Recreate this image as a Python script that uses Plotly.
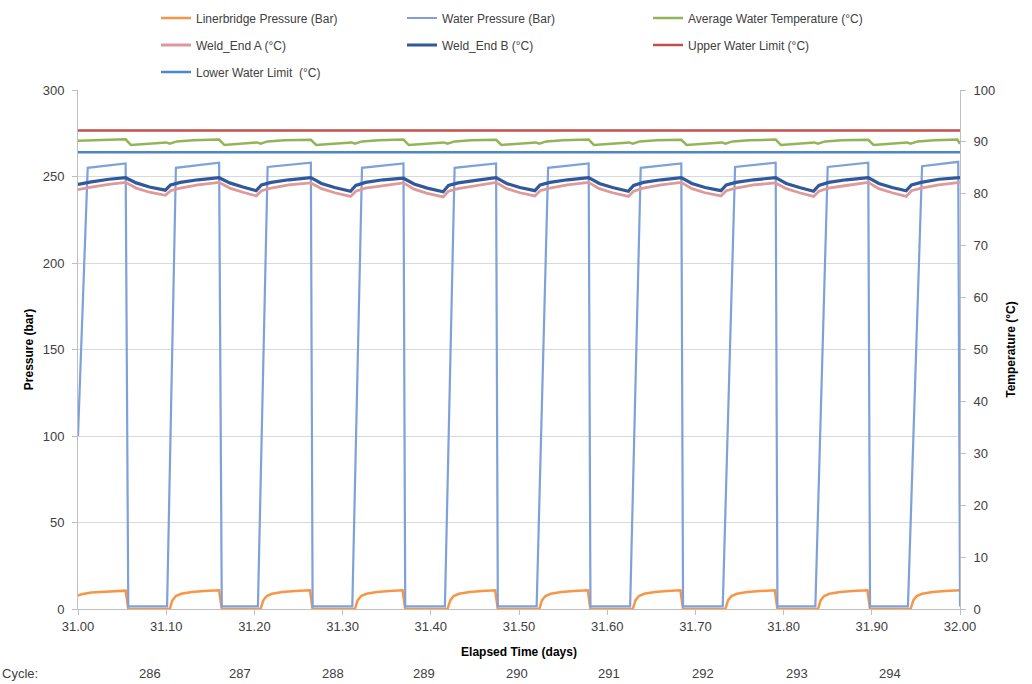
import plotly.graph_objects as go

# ---------------- data ----------------
# Water pressure (bar) polyline vertices
wp_t = [31.000, 31.011, 31.054, 31.057, 31.101, 31.111, 31.160, 31.163, 31.204, 31.215,
        31.264, 31.266, 31.311, 31.322, 31.369, 31.371, 31.416, 31.427, 31.474, 31.476,
        31.520, 31.533, 31.579, 31.581, 31.626, 31.638, 31.684, 31.686, 31.731, 31.745,
        31.791, 31.793, 31.836, 31.850, 31.896, 31.898, 31.941, 31.957, 31.998, 32.000]
wp_v = [100, 255, 257.5, 1.5, 1.5, 255, 258, 1.5, 1.5, 255.5,
        258, 1.5, 1.5, 255, 257.5, 1.5, 1.5, 255, 257.5, 1.5,
        1.5, 255, 257.5, 1.5, 1.5, 255, 257.5, 1.5, 1.5, 255.5,
        258, 1.5, 1.5, 255.5, 258, 1.5, 1.5, 256, 258.5, 1.5]

# Linerbridge pressure (bar)
lb_t = [31.000, 31.004, 31.015, 31.035, 31.054, 31.057,
        31.104, 31.107, 31.111, 31.117, 31.129, 31.143, 31.160, 31.163,
        31.207, 31.210, 31.214, 31.220, 31.232, 31.246, 31.263, 31.266,
        31.314, 31.317, 31.321, 31.327, 31.339, 31.353, 31.368, 31.371,
        31.419, 31.422, 31.426, 31.432, 31.444, 31.458, 31.473, 31.476,
        31.523, 31.526, 31.530, 31.536, 31.548, 31.562, 31.578, 31.581,
        31.629, 31.632, 31.636, 31.642, 31.654, 31.668, 31.683, 31.686,
        31.734, 31.737, 31.741, 31.747, 31.759, 31.773, 31.790, 31.793,
        31.839, 31.842, 31.846, 31.852, 31.864, 31.878, 31.895, 31.898,
        31.944, 31.947, 31.951, 31.957, 31.969, 31.983, 32.000]
lb_v = [7.8, 8.5, 9.5, 10.2, 10.6, 0,
        0, 5, 7.5, 8.8, 9.8, 10.4, 10.8, 0,
        0, 5, 7.5, 8.8, 9.8, 10.4, 10.8, 0,
        0, 5, 7.5, 8.8, 9.8, 10.4, 10.8, 0,
        0, 5, 7.5, 8.8, 9.8, 10.4, 10.8, 0,
        0, 5, 7.5, 8.8, 9.8, 10.4, 10.8, 0,
        0, 5, 7.5, 8.8, 9.8, 10.4, 10.8, 0,
        0, 5, 7.5, 8.8, 9.8, 10.4, 10.8, 0,
        0, 5, 7.5, 8.8, 9.8, 10.4, 10.8, 0,
        0, 5, 7.5, 8.8, 9.8, 10.4, 10.9]

# Average water temperature (°C)
aw_t = [31.000, 31.025,
        31.054, 31.060, 31.079, 31.100, 31.104, 31.112, 31.131,
        31.160, 31.166, 31.185, 31.203, 31.207, 31.215, 31.234,
        31.264, 31.270, 31.289, 31.310, 31.314, 31.322, 31.341,
        31.369, 31.375, 31.394, 31.415, 31.419, 31.427, 31.446,
        31.474, 31.480, 31.499, 31.519, 31.523, 31.531, 31.550,
        31.579, 31.585, 31.604, 31.625, 31.629, 31.637, 31.656,
        31.684, 31.690, 31.709, 31.730, 31.734, 31.742, 31.761,
        31.791, 31.797, 31.816, 31.835, 31.839, 31.847, 31.866,
        31.896, 31.902, 31.921, 31.940, 31.944, 31.952, 31.971,
        31.997, 32.000]
aw_v = [90.2, 90.35,
        90.5, 89.4, 89.7, 89.9, 89.65, 90.1, 90.3,
        90.45, 89.4, 89.7, 89.9, 89.65, 90.1, 90.3,
        90.4, 89.4, 89.7, 89.9, 89.65, 90.1, 90.3,
        90.45, 89.4, 89.7, 89.9, 89.65, 90.1, 90.3,
        90.4, 89.4, 89.7, 89.9, 89.65, 90.1, 90.3,
        90.45, 89.4, 89.7, 89.9, 89.65, 90.1, 90.3,
        90.4, 89.4, 89.7, 89.9, 89.65, 90.1, 90.3,
        90.45, 89.4, 89.7, 89.9, 89.65, 90.1, 90.3,
        90.4, 89.4, 89.7, 89.9, 89.65, 90.1, 90.3,
        90.45, 89.6]

# Weld end temperatures (°C)
weld_t = [31.000, 31.015, 31.035,
          31.054, 31.066, 31.081, 31.099, 31.105, 31.116, 31.136,
          31.160, 31.172, 31.187, 31.202, 31.208, 31.219, 31.239,
          31.264, 31.276, 31.291, 31.309, 31.315, 31.326, 31.346,
          31.369, 31.381, 31.396, 31.414, 31.420, 31.431, 31.451,
          31.474, 31.486, 31.501, 31.518, 31.524, 31.535, 31.555,
          31.579, 31.591, 31.606, 31.624, 31.630, 31.641, 31.661,
          31.684, 31.696, 31.711, 31.729, 31.735, 31.746, 31.766,
          31.791, 31.803, 31.818, 31.834, 31.840, 31.851, 31.871,
          31.896, 31.908, 31.923, 31.939, 31.945, 31.956, 31.976,
          32.000]
weld_b = [81.8, 82.3, 82.8,
          83.1, 82.1, 81.3, 80.7, 81.7, 82.2, 82.7,
          83.1, 82.1, 81.3, 80.6, 81.7, 82.2, 82.7,
          83.1, 82.0, 81.2, 80.5, 81.6, 82.2, 82.7,
          83.0, 81.9, 81.1, 80.4, 81.6, 82.1, 82.6,
          83.1, 82.0, 81.2, 80.6, 81.7, 82.2, 82.7,
          83.1, 82.0, 81.2, 80.5, 81.6, 82.2, 82.7,
          83.1, 82.0, 81.2, 80.6, 81.7, 82.2, 82.7,
          83.1, 82.0, 81.2, 80.5, 81.6, 82.2, 82.7,
          83.1, 82.0, 81.2, 80.6, 81.7, 82.2, 82.8,
          83.1]
weld_a = [80.8, 81.3, 81.8,
          82.2, 81.1, 80.3, 79.7, 80.6, 81.1, 81.7,
          82.2, 81.1, 80.3, 79.6, 80.6, 81.1, 81.7,
          82.1, 81.0, 80.2, 79.5, 80.5, 81.1, 81.6,
          82.1, 80.9, 80.1, 79.4, 80.5, 81.0, 81.6,
          82.2, 81.0, 80.2, 79.6, 80.6, 81.1, 81.7,
          82.2, 81.0, 80.2, 79.5, 80.5, 81.1, 81.7,
          82.2, 81.0, 80.2, 79.6, 80.6, 81.1, 81.7,
          82.1, 81.0, 80.2, 79.5, 80.5, 81.1, 81.6,
          82.2, 81.0, 80.2, 79.5, 80.6, 81.1, 81.7,
          82.2]

# Limits (°C)
limit_t = [31.0, 32.0]
upper_limit = [92.2, 92.2]
lower_limit = [88.0, 88.0]

# Cycle numbers and their positions on the time axis
cycle_labels = ["286", "287", "288", "289", "290", "291", "292", "293", "294"]
cycle_pos = [31.082, 31.184, 31.289, 31.392, 31.498, 31.602, 31.709, 31.815, 31.921]

# ---------------- figure ----------------
FONT = "Liberation Sans, Arial, sans-serif"
W, H = 1032, 684
ML, MR, MT, MB = 78, 72, 90, 75
PH = H - MT - MB

fig = go.Figure()

def add(x, y, name, color, width, axis, legend):
    fig.add_trace(go.Scatter(x=x, y=y, name=name, mode="lines", yaxis=axis,
                             line=dict(color=color, width=width),
                             legend=legend, hoverinfo="x+y+name"))

add(lb_t, lb_v, "Linerbridge Pressure (Bar)", "#F79646", 2.5, "y", "legend")
add(wp_t, wp_v, "Water Pressure (Bar)", "#7EA1D9", 2.2, "y", "legend")
add(aw_t, aw_v, "Average Water Temperature (°C)", "#92B556", 2.5, "y2", "legend")
add(weld_t, weld_a, "Weld_End A (°C)", "#DD9A99", 2.8, "y2", "legend2")
add(weld_t, weld_b, "Weld_End B (°C)", "#30599C", 3.2, "y2", "legend2")
add(limit_t, upper_limit, "Upper Water Limit (°C)", "#C0504D", 2.5, "y2", "legend2")
add(limit_t, lower_limit, "Lower Water Limit  (°C)", "#4D86C6", 2.5, "y2", "legend3")

leg_common = dict(orientation="h", xanchor="left", yanchor="middle",
                  xref="container", yref="container",
                  entrywidth=201, entrywidthmode="pixels",
                  font=dict(family=FONT, size=12, color="#404040"),
                  bgcolor="rgba(0,0,0,0)", tracegroupgap=0)
lx = 156 / W

annotations = []
cy = (H - MB - 673) / PH
for lab, pos in zip(cycle_labels, cycle_pos):
    annotations.append(dict(x=pos, y=cy, xref="x", yref="paper",
                            text=lab, showarrow=False, xanchor="center", yanchor="middle",
                            font=dict(family=FONT, size=13, color="#404040")))
annotations.append(dict(x=(0 - ML) / (W - ML - MR), y=cy, xref="paper", yref="paper",
                        text="Cycle:", showarrow=False, xanchor="left", yanchor="middle",
                        font=dict(family=FONT, size=13, color="#404040")))

axis_line = "#BFBFBF"
fig.update_layout(
    width=W, height=H,
    margin=dict(l=ML, r=MR, t=MT, b=MB, autoexpand=False),
    paper_bgcolor="white", plot_bgcolor="white",
    font=dict(family=FONT, color="#404040"),
    showlegend=True,
    legend=dict(x=lx, y=1 - 18 / H, **leg_common),
    legend2=dict(x=lx, y=1 - 45 / H, **leg_common),
    legend3=dict(x=lx, y=1 - 72 / H, **leg_common),
    xaxis=dict(range=[31.0, 32.0], tick0=31.0, dtick=0.1, tickformat=".2f",
               showline=True, linecolor=axis_line, linewidth=1,
               ticks="outside", ticklen=5, tickcolor=axis_line,
               showgrid=False, zeroline=False, automargin=False,
               tickfont=dict(family=FONT, size=13, color="#404040"),
               title=dict(text="<b>Elapsed Time (days)</b>", standoff=15,
                          font=dict(family=FONT, size=12, color="#000000"))),
    yaxis=dict(range=[0, 300], dtick=50, showline=True, linecolor=axis_line, linewidth=1,
               ticks="outside", ticklen=5, tickcolor=axis_line, ticklabelstandoff=5,
               showgrid=True, gridcolor="#D9D9D9", gridwidth=1, zeroline=False,
               automargin=False,
               tickfont=dict(family=FONT, size=13, color="#404040"),
               title=dict(text="<b>Pressure (bar)</b>", standoff=6,
                          font=dict(family=FONT, size=12, color="#000000"))),
    yaxis2=dict(range=[0, 100], dtick=10, overlaying="y", side="right",
                showline=True, linecolor=axis_line, linewidth=1,
                ticks="outside", ticklen=5, tickcolor=axis_line, ticklabelstandoff=5,
                showgrid=False, zeroline=False, automargin=False,
                tickfont=dict(family=FONT, size=13, color="#404040"),
                title=dict(text="<b>Temperature (°C)</b>", standoff=12,
                           font=dict(family=FONT, size=12, color="#000000"))),
    annotations=annotations,
)

fig.write_html("out.html", config={"displayModeBar": False},
               post_script="document.body.style.margin='0px';")
